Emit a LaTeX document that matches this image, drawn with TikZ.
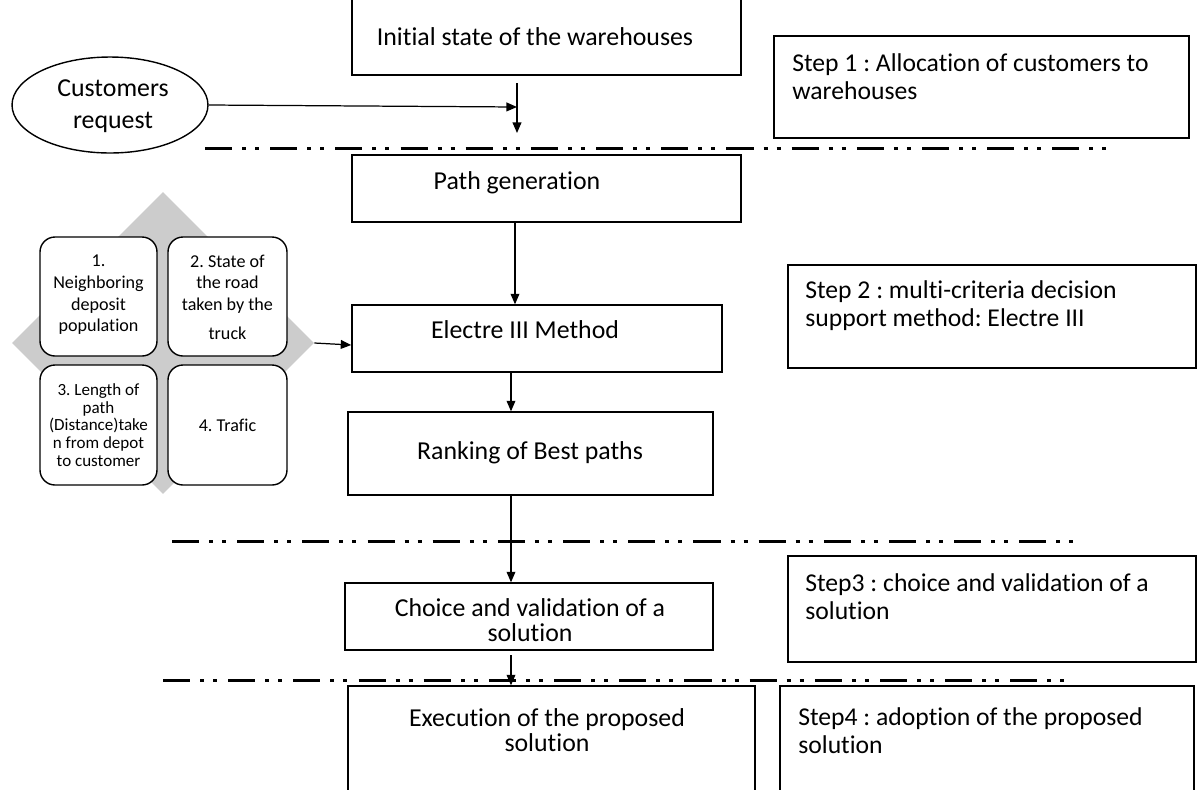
\documentclass[tikz,border=0pt]{standalone}
\usepackage{fontspec}
\setmainfont[Ligatures=NoCommon]{Carlito}
\usetikzlibrary{shapes.geometric,arrows.meta,fit}
\definecolor{dgray}{RGB}{204,204,204}
\frenchspacing
\tikzset{
 box/.style={draw=black, line width=0.8pt, inner sep=0pt},
 txt/.style={font=\fontsize{14.7}{14.5}\selectfont, align=center, inner sep=0pt},
 steptxt/.style={font=\fontsize{14.6}{16}\selectfont, align=left, anchor=west, inner sep=0pt},
 crit/.style={draw=black, line width=0.8pt, fill=white, rounded corners=0.3cm, inner sep=0pt},
 crittxt/.style={font=\fontsize{10.3}{12.3}\selectfont, align=center, inner sep=0pt},
 arr/.style={draw=black, line width=0.7pt, -{Triangle[length=6pt,width=5pt]}},
 sepline/.style={line width=1.7pt, dash pattern=on 15.4pt off 5.7pt on 2.3pt off 5.1pt on 2.3pt off 6.3pt},
}
\begin{document}
\begin{tikzpicture}[x=0.02cm,y=-0.02cm]
\clip (0,0) rectangle (1198,789);
\fill[white] (0,0) rectangle (1198,789);

% central boxes
\node[box, fit={(352,-2) (741,75)}] (init) {};
\node[txt] (initt) at (535,37) {Initial state of the warehouses};
\node[box, fit={(352,155) (741,222)}] (pg) {};
\node[txt] (pgt) at (517,183) {Path generation};
\node[box, fit={(352,305) (722,372)}] (el) {};
\node[txt] (elt) at (525,330) {Electre III Method};
\node[box, fit={(348,412) (713,495)}] (rk) {};
\node[txt] (rkt) at (530,453) {Ranking of Best paths};
\node[box, fit={(345,583) (713,650)}] (ch) {};
\node[txt] (cht) at (530,620) {Choice and validation of a\\solution};
\node[box, fit={(348,686) (755,800)}] (ex) {};
\node[txt] (ext) at (547,730) {Execution of the proposed\\solution};

% step boxes
\node[box, fit={(774,36) (1189,138)}] (s1) {};
\node[steptxt] (s1t) at (792,77) {Step 1 : Allocation of customers to\\warehouses};
\node[box, fit={(788,265) (1196,368)}] (s2) {};
\node[steptxt] (s2t) at (805,306) {Step 2 : multi-criteria decision\\support method: Electre III};
\node[box, fit={(788,556) (1196,662)}] (s3) {};
\node[steptxt] (s3t) at (805,597) {Step3 : choice and validation of a\\solution};
\node[box, fit={(780,686) (1194,800)}] (s4) {};
\node[steptxt] (s4t) at (798,731) {Step4 : adoption of the proposed\\solution};

% customers ellipse
\node[ellipse, draw=black, line width=0.8pt, minimum width=3.92cm, minimum height=1.92cm, inner sep=0pt] (cr) at (110,105) {};
\node[txt] (crt) at (113,106) {Customers\\[4pt]request};

% separators
\draw[sepline] (205,148) coordinate (a1) -- (1115,148) coordinate (a2);
\draw[sepline] (172,541) coordinate (b1) -- (1078,541) coordinate (b2);
\draw[sepline] (163,680) coordinate (c1) -- (1070,680) coordinate (c2);

% diamond with criteria
\node[diamond, fill=dgray, minimum width=6.04cm, minimum height=6.04cm, inner sep=0pt] (dia) at (163,343) {};
\node[crit, fit={(40,237) (157,356)}] (k1) {};
\node[crit, fit={(168,237) (287,356)}] (k2) {};
\node[crit, fit={(40,365) (157,485)}] (k3) {};
\node[crit, fit={(168,365) (287,485)}] (k4) {};
\node[crittxt] (k1t) at (98.5,295) {1.\\Neighboring\\deposit\\population};
\node[crittxt] (k2t) at (227.5,297) {2. State of\\the road\\taken by the\\[4pt]truck};
\node[crittxt, font=\fontsize{9.7}{10}\selectfont] (k3t) at (98.5,425) {3. Length of\\path\\(Distance)take\\n from depot\\to customer};
\node[crittxt] (k4t) at (227.5,425) {4. Trafic};

% connectors
\coordinate (v1) at (517,83);
\coordinate (v2) at (517,133);
\draw[arr] (v1) -- (v2);
\coordinate (hj) at (517,107);
\draw[arr] (cr.east) -- (hj);
\coordinate (pgo) at (515,222);
\draw[arr] (pgo) -- (el.north -| pgo);
\coordinate (elo) at (511,372);
\draw[arr] (elo) -- (rk.north -| elo);
\coordinate (rko) at (511,495);
\draw[arr] (rko) -- (ch.north -| rko);
\coordinate (cho) at (511,655);
\draw[arr] (cho) -- (ex.north -| cho);
\draw[arr] (dia.east) -- (el.west |- 0,345);
\end{tikzpicture}
\end{document}
